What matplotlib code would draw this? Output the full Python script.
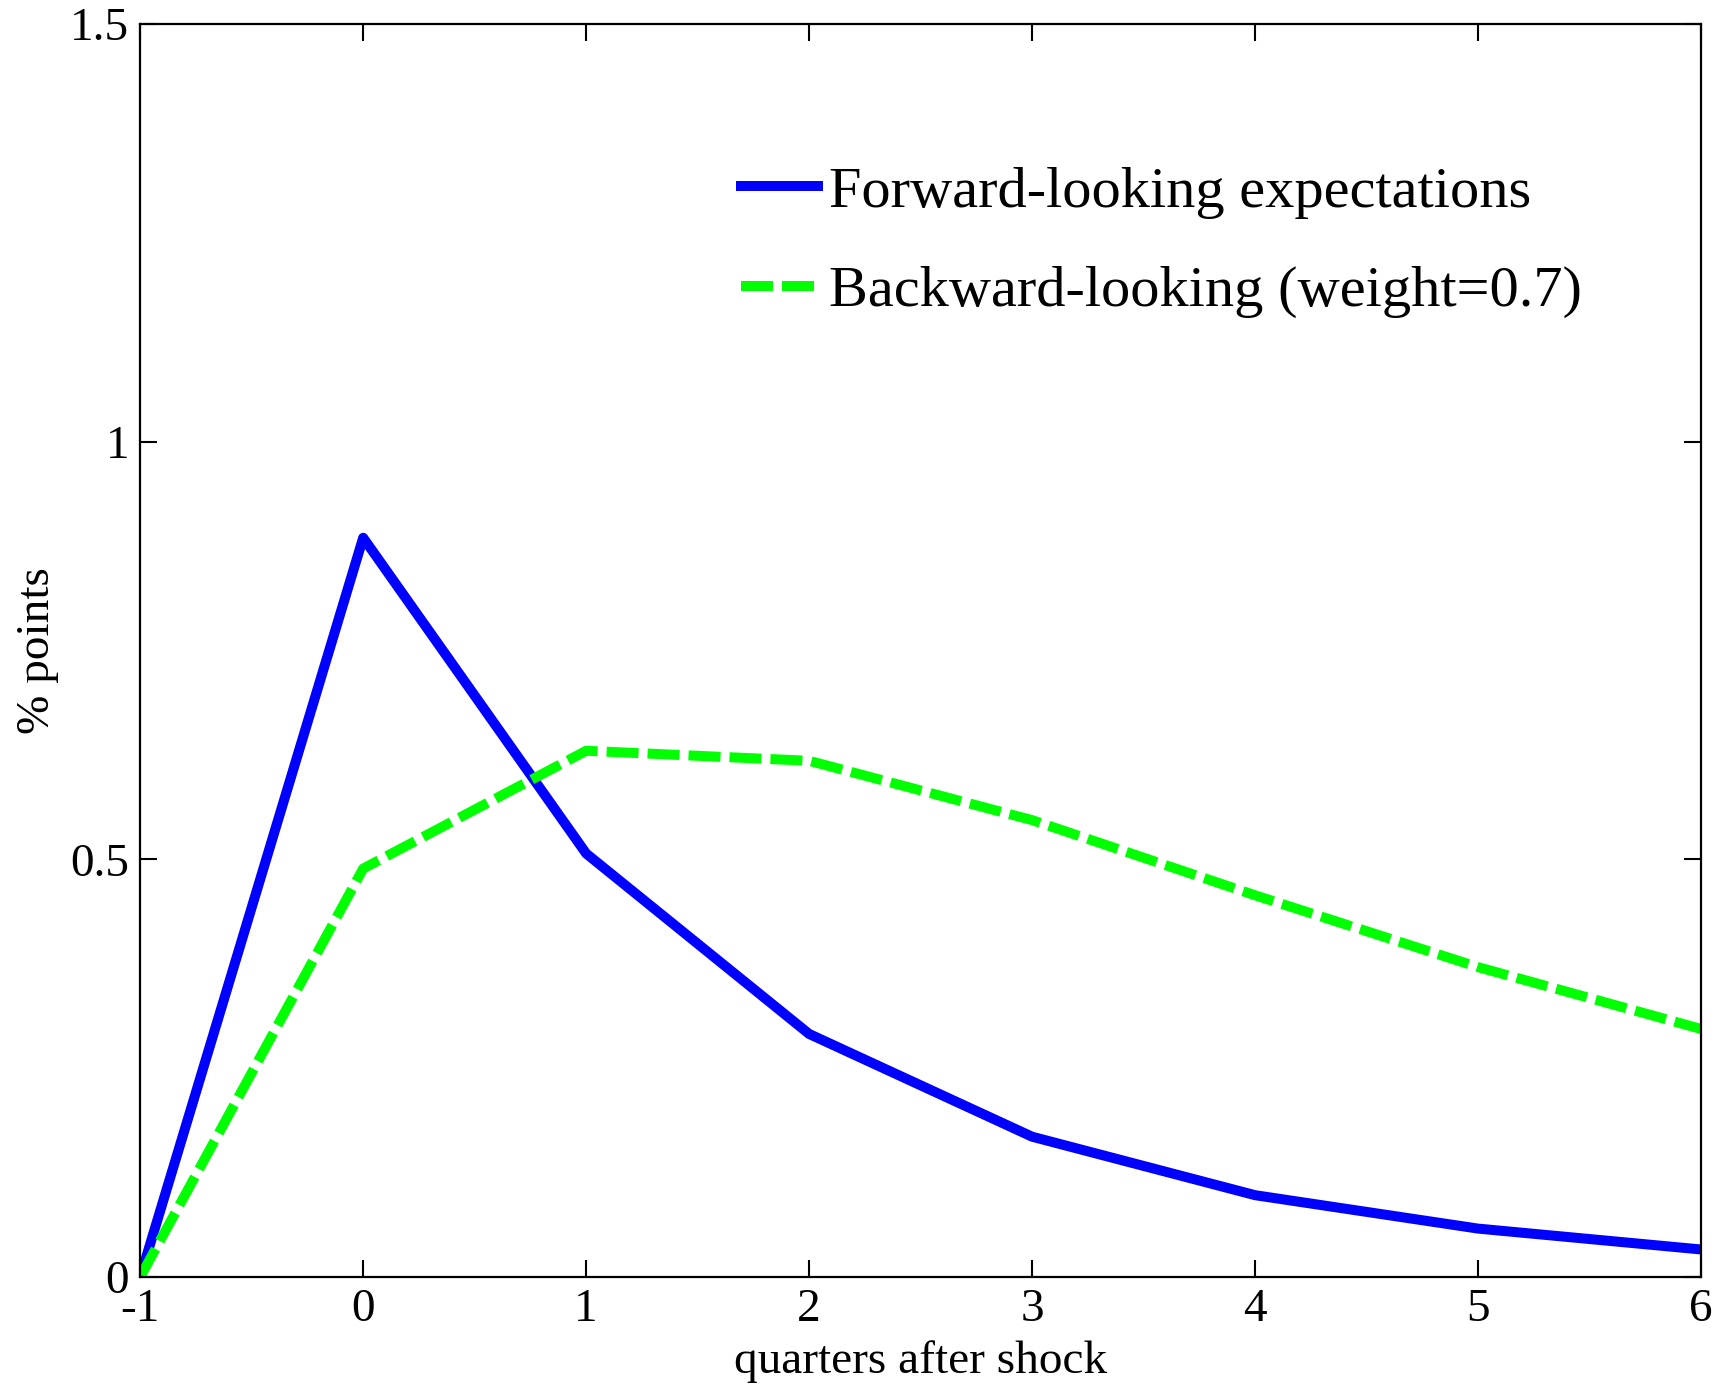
import matplotlib.pyplot as plt

plt.rcParams["font.family"] = ["Liberation Serif", "DejaVu Serif"]

quarters = [-1, 0, 1, 2, 3, 4, 5, 6]
forward = [0.0, 0.885, 0.507, 0.291, 0.168, 0.098, 0.058, 0.033]
backward = [0.0, 0.489, 0.630, 0.618, 0.547, 0.457, 0.371, 0.297]

fig = plt.figure(figsize=(17.31, 13.89), dpi=100, facecolor="white")
ax = fig.add_axes([0.081, 0.0806, 0.9017, 0.9021])

ax.plot(quarters, forward, color="#0000ff", lw=7.2, solid_joinstyle="round",
        label="Forward-looking expectations")
ax.plot(quarters, backward, color="#00ff00", lw=7.2, dashes=(3.2, 0.9),
        dash_capstyle="butt", dash_joinstyle="round",
        label="Backward-looking (weight=0.7)")

ax.set_xlim(-1, 6)
ax.set_ylim(0, 1.5)
ax.set_xticks(quarters)
ax.set_xticklabels([str(q) for q in quarters])
ax.set_yticks([0, 0.5, 1, 1.5])
ax.set_yticklabels(["0", "0.5", "1", "1.5"])

ax.tick_params(direction="in", length=12, width=1.5, labelsize=34,
               top=True, right=True, pad=8)
for sp in ax.spines.values():
    sp.set_linewidth(1.6)

ax.set_xlabel("quarters after shock", fontsize=34, labelpad=7)
ax.set_ylabel("% points", fontsize=34, labelpad=8)

ax.legend(loc="center left", bbox_to_anchor=(0.366, 0.826), frameon=False,
          fontsize=42, handlelength=1.32, handletextpad=0.2, labelspacing=0.8,
          borderpad=0)

fig.savefig("out.png", dpi=100, facecolor="white")
